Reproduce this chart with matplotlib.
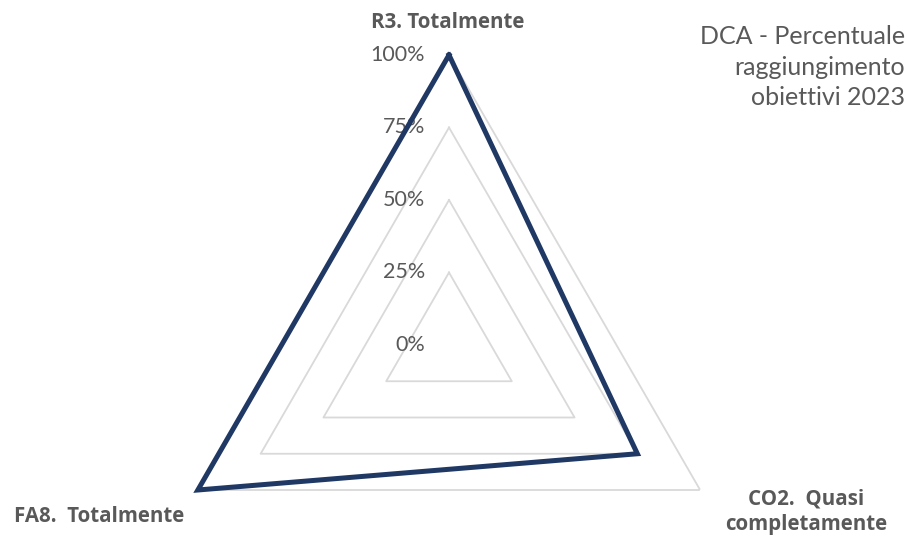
import numpy as np
import matplotlib
matplotlib.use("Agg")
import matplotlib.pyplot as plt

plt.rcParams["font.family"] = ["Lato", "DejaVu Sans"]

categories = ["R3. Totalmente", "CO2.  Quasi\ncompletamente", "FA8.  Totalmente"]
values = [1.00, 0.75, 1.00]
rings = [0.25, 0.50, 0.75, 1.00]
tick_values = [0.0, 0.25, 0.50, 0.75, 1.00]
tick_labels = ["0%", "25%", "50%", "75%", "100%"]
title = "DCA - Percentuale\nraggiungimento\nobiettivi 2023"

GREY_TXT = "#595959"
GRID = "#D9D9D9"
LINE = "#1F3864"

W, H = 908, 539
fig = plt.figure(figsize=(W / 100, H / 100), dpi=100)
fig.patch.set_facecolor("white")

# polar axes: centre at (449, 345) px, radius 290 px
cx, cy, R = 449, 345, 290
ax = fig.add_axes([(cx - R) / W, (H - cy - R) / H, 2 * R / W, 2 * R / H], projection="polar")
ax.set_theta_zero_location("N")
ax.set_theta_direction(-1)
ax.set_ylim(0, 1)
ax.set_facecolor("none")
ax.grid(False)
ax.spines["polar"].set_visible(False)
ax.set_xticks([])
ax.set_yticks([])

theta = np.linspace(0, 2 * np.pi, len(categories), endpoint=False)
theta_c = np.append(theta, theta[0])

for r in rings:
    ax.plot(theta_c, [r] * len(theta_c), color=GRID, linewidth=1.3, zorder=1)

v = values + values[:1]
ax.plot(theta_c, v, color=LINE, linewidth=3.6, solid_joinstyle="miter", zorder=3, clip_on=False)

for tv, tl in zip(tick_values, tick_labels):
    ax.annotate(tl, xy=(0, tv), xytext=(-24, 0), textcoords="offset pixels",
                ha="right", va="center", fontsize=15.5, color=GREY_TXT,
                annotation_clip=False, zorder=2)

offsets = [(-1, 32, "center"), (106, -22, "center"), (-184, -26, "left")]
for t, lab, (dx, dy, ha) in zip(theta, categories, offsets):
    ax.annotate(lab, xy=(t, 1), xytext=(dx, dy), textcoords="offset pixels",
                ha=ha, va="center", fontsize=14.8, fontweight="bold", color=GREY_TXT,
                family=["Open Sans", "DejaVu Sans"],
                annotation_clip=False, linespacing=1.3)

fig.text(905 / W, 1 - 25 / H, title, ha="right", va="top", fontsize=18,
         color=GREY_TXT, linespacing=1.4)

fig.savefig("out.png", dpi=100, facecolor="white")
